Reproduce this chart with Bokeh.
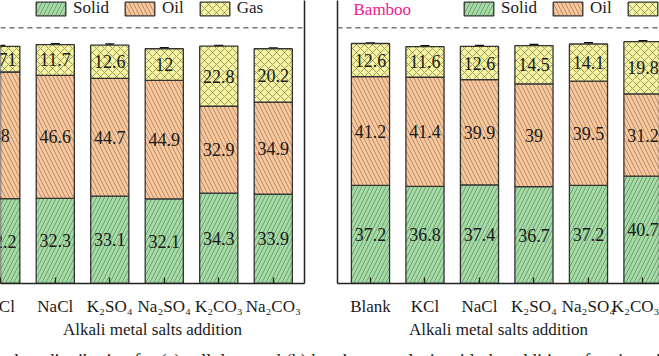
from bokeh.plotting import figure
from bokeh.models import (ColumnDataSource, LinearAxis, FixedTicker, Range1d, Span,
                          Label, Legend, LegendItem, Whisker, TeeHead, Div)
from bokeh.layouts import row, column
from bokeh.embed import file_html
from bokeh.resources import INLINE
from bokeh.core.properties import value

# ---------------- data ----------------
cell_categories = ["KCl", "NaCl", "K₂SO₄", "Na₂SO₄", "K₂CO₃", "Na₂CO₃"]
cell_solid = [32.2, 32.3, 33.1, 32.1, 34.3, 33.9]
cell_oil = [48, 46.6, 44.7, 44.9, 32.9, 34.9]
cell_gas = [9.71, 11.7, 12.6, 12, 22.8, 20.2]
cell_solid_err = [0.3, 0.2, 0.3, 0.2, 0.5, 0.5]
cell_oil_err = [0.5, 0.9, 0.6, 1.1, 0.9, 1.8]
cell_gas_err = [0.3, 0.3, 0.4, 0.4, 0.2, 0.3]

bamboo_categories = ["Blank", "KCl", "NaCl", "K₂SO₄", "Na₂SO₄", "K₂CO₃"]
bamboo_solid = [37.2, 36.8, 37.4, 36.7, 37.2, 40.7]
bamboo_oil = [41.2, 41.4, 39.9, 39, 39.5, 31.2]
bamboo_gas = [12.6, 11.6, 12.6, 14.5, 14.1, 19.8]
bamboo_solid_err = [0.1, 0.4, 0.3, 0.4, 0.4, 0.5]
bamboo_oil_err = [0.6, 1.5, 1.0, 0.3, 1.2, 1.0]
bamboo_gas_err = [0.2, 0.3, 0.3, 0.4, 0.5, 0.3]

series_names = ["Solid", "Oil", "Gas"]
reference_line = 97

# ---------------- style ----------------
FONT = "Liberation Serif"
FILLS = ["#a6dba6", "#f9c89d", "#f7f5a0"]
HATCHES = ["right_diagonal_line", "left_diagonal_line", "diagonal_cross"]
HATCH_COLORS = ["#4a7a52", "#8a6448", "#5a5a48"]
PX_PER_CAT = 54.5
FRAME_H = 283
Y_END = 107.3
TICK_STANDOFF = 13
HIDDEN_LEFT = 40   # part of the left panel's canvas that lies beyond the cropped edge


def fmt(v):
    return f"{v:g}"


def make_panel(cats, solid, oil, gas, errs, x_start, frame_w, border_l, border_r,
               axis_side, legend_x, title=None):
    x_end = x_start + frame_w / PX_PER_CAT
    p = figure(frame_width=frame_w, frame_height=FRAME_H,
               x_range=Range1d(x_start, x_end), y_range=Range1d(0, Y_END),
               y_axis_location=None, toolbar_location=None, output_backend="svg",
               min_border_left=border_l, min_border_right=border_r,
               min_border_top=0, min_border_bottom=64)
    p.outline_line_color = None
    p.xgrid.visible = False
    p.ygrid.visible = False
    p.background_fill_color = "white"
    p.border_fill_color = "white"

    xs = list(range(len(cats)))
    tops_s = solid
    tops_o = [s + o for s, o in zip(solid, oil)]
    tops_g = [t + g for t, g in zip(tops_o, gas)]
    bottoms = [[0] * len(cats), tops_s, tops_o]
    tops = [tops_s, tops_o, tops_g]
    vals = [solid, oil, gas]

    renderers = []
    for k in range(3):
        src = ColumnDataSource(dict(
            x=xs, b=bottoms[k], t=tops[k],
            mid=[(a + c) / 2 for a, c in zip(bottoms[k], tops[k])],
            lab=[fmt(v) for v in vals[k]],
            lo=[t - e for t, e in zip(tops[k], errs[k])],
            up=[t + e for t, e in zip(tops[k], errs[k])],
        ))
        r = p.vbar(x="x", bottom="b", top="t", width=0.7, source=src,
                   fill_color=FILLS[k], line_color="#333333", line_width=1.3,
                   hatch_pattern=HATCHES[k], hatch_color=HATCH_COLORS[k],
                   hatch_scale=8, hatch_weight=0.7, hatch_alpha=0.85)
        renderers.append(r)
        p.text(x="x", y="mid", text="lab", source=src, text_align="center",
               text_baseline="middle", text_font=value(FONT),
               text_font_size="18px", text_color="#1a1a1a")
        w = Whisker(source=src, base="x", lower="lo", upper="up",
                    dimension="height", line_color="#111111", line_width=1.3,
                    upper_head=TeeHead(size=9, line_color="#111111", line_width=1.6),
                    lower_head=TeeHead(size=9, line_color="#111111", line_width=1.6))
        p.add_layout(w)

    p.add_layout(Span(location=reference_line, dimension="width",
                      line_color="#777777", line_width=1.5, line_dash="5 4"))

    legend = Legend(items=[LegendItem(label=n, renderers=[r])
                           for n, r in zip(series_names, renderers)],
                    orientation="horizontal", location=(legend_x, FRAME_H - 18),
                    glyph_width=37, glyph_height=17, label_height=17,
                    label_standoff=4, spacing=12, padding=0, margin=0,
                    border_line_color=None, background_fill_alpha=0,
                    label_text_font=FONT, label_text_font_size="17px",
                    label_text_color="#1a1a1a")
    p.add_layout(legend)

    if title:
        p.add_layout(Label(x=x_start + 16 / PX_PER_CAT, y=Y_END - 9 / (FRAME_H / Y_END),
                           text=title, text_font=FONT, text_font_size="17px",
                           text_color="#f0208f", text_baseline="middle"))

    xa = p.xaxis[0]
    xa.ticker = FixedTicker(ticks=xs)
    xa.major_label_overrides = {i: c for i, c in zip(xs, cats)}
    xa.major_label_text_font = FONT
    xa.major_label_text_font_size = "17px"
    xa.major_label_text_color = "#1a1a1a"
    xa.major_label_standoff = TICK_STANDOFF
    xa.major_tick_in = 6
    xa.major_tick_out = 0
    xa.minor_tick_line_color = None
    xa.axis_line_width = 1.5
    xa.axis_line_color = "#222222"
    xa.major_tick_line_color = "#222222"
    xa.major_tick_line_width = 1.3
    xa.axis_label = "Alkali metal salts addition"
    xa.axis_label_text_font = FONT
    xa.axis_label_text_font_size = "17px"
    xa.axis_label_text_font_style = "normal"
    xa.axis_label_text_color = "#1a1a1a"
    xa.axis_label_standoff = 1

    ya = LinearAxis(ticker=FixedTicker(ticks=[]), axis_line_width=1.5,
                    axis_line_color="#222222", major_label_text_font_size="0px",
                    major_label_standoff=0, major_tick_in=0, major_tick_out=0)
    p.add_layout(ya, axis_side)
    return p


left = make_panel(cell_categories, cell_solid, cell_oil, cell_gas,
                  [cell_solid_err, cell_oil_err, cell_gas_err],
                  x_start=-0.005, frame_w=304, border_l=HIDDEN_LEFT, border_r=16,
                  axis_side="right", legend_x=32)
left.margin = (0, 0, 0, -HIDDEN_LEFT)
right = make_panel(bamboo_categories, bamboo_solid, bamboo_oil, bamboo_gas,
                   [bamboo_solid_err, bamboo_oil_err, bamboo_gas_err],
                   x_start=-0.605, frame_w=322, border_l=17, border_r=0,
                   axis_side="left", legend_x=123, title="Bamboo")

caption_text = ("Product distribution for (a) cellulose and (b) bamboo pyrolysis "
                "with the addition of various Alkali metal salts")
caption = Div(
    text=('<div style="width:659px;height:9px;overflow:hidden;white-space:nowrap;'
          f'font-family:\'{FONT}\';font-size:18.3px;line-height:20px;color:#1a1a1a">'
          '<span style="display:inline-block;position:relative;top:1px;margin-left:-16px">'
          f'{caption_text}</span></div>'),
    width=659, height=9, margin=0)

layout = column(row(left, right, spacing=0), caption, spacing=0)

open("out.html", "w").write(file_html(layout, INLINE))
